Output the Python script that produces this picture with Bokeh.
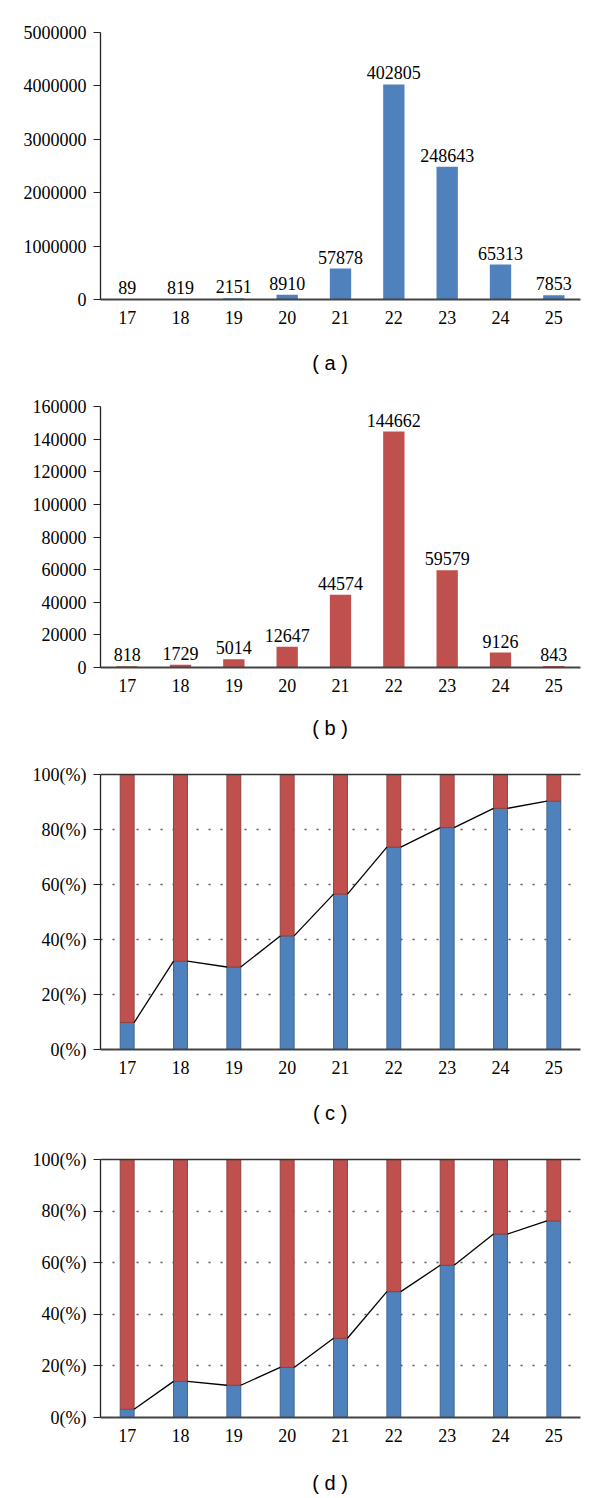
from bokeh.plotting import figure
from bokeh.models import Range1d, FixedTicker, LinearAxis, BasicTickFormatter
from bokeh.layouts import column
from bokeh.embed import file_html
from bokeh.resources import INLINE
from bokeh.core.properties import value

# ---------------- data ----------------
ages = [17, 18, 19, 20, 21, 22, 23, 24, 25]
a_values = [890, 8190, 21510, 89100, 578780, 4028050, 2486430, 653130, 78530]
a_labels = ["89", "819", "2151", "8910", "57878", "402805", "248643", "65313", "7853"]
b_values = [818, 1729, 5014, 12647, 44574, 144662, 59579, 9126, 843]
b_labels = ["818", "1729", "5014", "12647", "44574", "144662", "59579", "9126", "843"]
c_share = [9.8, 32.1, 30.0, 41.3, 56.5, 73.6, 80.7, 87.7, 90.3]
d_share = [3.2, 14.0, 12.5, 19.4, 30.7, 48.8, 59.0, 71.1, 76.2]
full = [100, 100, 100, 100, 100, 100, 100, 100, 100]
a_ticks = [0, 1000000, 2000000, 3000000, 4000000, 5000000]
b_ticks = [0, 20000, 40000, 60000, 80000, 100000, 120000, 140000, 160000]
pct_ticks = [0, 20, 40, 60, 80, 100]
pct_labels = ["0(%)", "20(%)", "40(%)", "60(%)", "80(%)", "100(%)"]
grid_ticks = [20, 40, 60, 80]
captions = ["( a )", "( b )", "( c )", "( d )"]

BLUE = "#4F81BD"
RED = "#C0504D"
SERIF = "Liberation Serif"
SANS = "Liberation Sans"
FS = "18px"
W = 600
X0, X1 = 16.5, 25.5
CAP_X = 287


def make_fig(height, left, top, bottom, frame_w, y_end, yticks, overrides=None):
    p = figure(width=W, height=height, title=None,
               x_range=Range1d(X0, X1), y_range=Range1d(0, y_end),
               output_backend="svg", toolbar_location=None,
               min_border_left=left, min_border_right=W - left - frame_w,
               min_border_top=top, min_border_bottom=bottom)
    p.outline_line_color = None
    p.background_fill_color = "white"
    p.xgrid.visible = False
    p.ygrid.visible = False
    p.yaxis.ticker = FixedTicker(ticks=yticks)
    p.yaxis.formatter = BasicTickFormatter(use_scientific=False)
    if overrides:
        p.yaxis.major_label_overrides = overrides
    p.yaxis.major_tick_out = 7
    p.yaxis.major_tick_in = 0
    p.yaxis.minor_tick_line_color = None
    p.yaxis.major_tick_line_color = "#222222"
    p.yaxis.axis_line_color = "#222222"
    p.yaxis.axis_line_width = 1.3
    p.yaxis.major_label_standoff = 7
    p.yaxis.major_label_text_font = SERIF
    p.yaxis.major_label_text_font_size = FS
    p.yaxis.major_label_text_color = "black"
    p.xaxis.ticker = FixedTicker(ticks=ages)
    p.xaxis.major_tick_line_color = None
    p.xaxis.minor_tick_line_color = None
    p.xaxis.major_tick_out = 0
    p.xaxis.major_tick_in = 0
    p.xaxis.axis_line_color = "#444444"
    p.xaxis.axis_line_width = 1.8
    p.xaxis.major_label_standoff = 11
    p.xaxis.major_label_text_font = SERIF
    p.xaxis.major_label_text_font_size = FS
    p.xaxis.major_label_text_color = "black"
    return p


def caption_fig(text, height, center_from_top):
    c = figure(width=W, height=height, title=None,
               x_range=Range1d(0, W), y_range=Range1d(0, height),
               output_backend="svg", toolbar_location=None,
               x_axis_location=None, y_axis_location=None,
               min_border=0, min_border_left=0, min_border_right=0,
               min_border_top=0, min_border_bottom=0)
    c.outline_line_color = None
    c.xgrid.visible = False
    c.ygrid.visible = False
    c.text(x=[CAP_X], y=[height - center_from_top], text=[text],
           text_font=value(SANS), text_font_size="20px",
           text_align="center", text_baseline="middle", text_color="black")
    return c


def count_panel(values, labels, color, height, left, top, bottom, frame_w, y_end, yticks):
    p = make_fig(height, left, top, bottom, frame_w, y_end, yticks)
    p.vbar(x=ages, top=values, width=0.4, fill_color=color, line_color=None)
    p.text(x=ages, y=values, text=labels, text_font=value(SERIF), text_font_size=FS,
           text_align="center", text_baseline="bottom", y_offset=-5, text_color="black")
    return p


def share_panel(share, height, left, top, bottom, frame_w):
    p = make_fig(height, left, top, bottom, frame_w, 100, pct_ticks,
                 {t: s for t, s in zip(pct_ticks, pct_labels)})
    p.ygrid.visible = True
    p.ygrid.ticker = FixedTicker(ticks=grid_ticks)
    p.ygrid.grid_line_color = "#555555"
    p.ygrid.grid_line_width = 1.5
    p.ygrid.grid_line_dash = "2 10"
    bw = 0.26
    p.vbar(x=ages, bottom=0, top=share, width=bw, fill_color=BLUE, line_color="#3B6391", line_width=1)
    p.vbar(x=ages, bottom=share, top=full, width=bw, fill_color=RED, line_color="#93403D", line_width=1)
    p.segment(x0=[a + bw / 2 for a in ages[:-1]], y0=share[:-1],
              x1=[a - bw / 2 for a in ages[1:]], y1=share[1:],
              line_color="black", line_width=1.3)
    top_axis = LinearAxis(ticker=FixedTicker(ticks=[]), axis_line_color="#444444",
                          axis_line_width=1.5, major_tick_line_color=None,
                          minor_tick_line_color=None, major_label_text_font_size="0px",
                          major_tick_out=0, major_label_standoff=0)
    p.add_layout(top_axis, "above")
    p.xaxis[0].axis_line_color = "#333333"
    return p


# page bands: a 0-337, cap 337-390, b 390-706, cap 706-754,
#             c 754-1087, cap 1087-1140, d 1140-1455, cap 1455-1498
pa = count_panel(a_values, a_labels, BLUE, 337, 100, 32, 38, 480, 5000000, a_ticks)
ca = caption_fig(captions[0], 53, 25)
pb = count_panel(b_values, b_labels, RED, 316, 88, 16, 39, 492, 160000, b_ticks)
cb = caption_fig(captions[1], 48, 21)
pc = share_panel(c_share, 333, 96, 20, 38, 484)
cc = caption_fig(captions[2], 53, 25)
pd = share_panel(d_share, 315, 92, 19, 38, 488)
cd = caption_fig(captions[3], 43, 27)

layout = column(pa, ca, pb, cb, pc, cc, pd, cd, spacing=0)
open("out.html", "w").write(file_html(layout, INLINE))
